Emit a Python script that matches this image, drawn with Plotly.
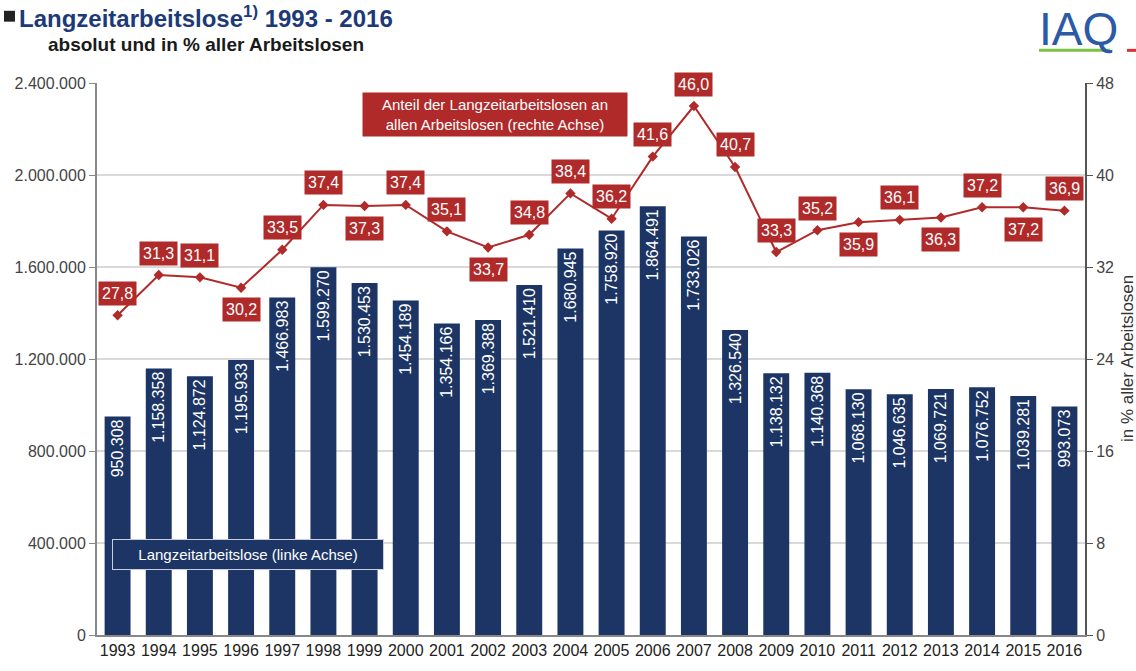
import plotly.graph_objects as go

years = list(range(1993, 2017))
long_term_unemployed = [950308, 1158358, 1124872, 1195933, 1466983, 1599270, 1530453, 1454189,
                        1354166, 1369388, 1521410, 1680945, 1758920, 1864491, 1733026, 1326540,
                        1138132, 1140368, 1068130, 1046635, 1069721, 1076752, 1039281, 993073]
share_pct = [27.8, 31.3, 31.1, 30.2, 33.5, 37.4, 37.3, 37.4, 35.1, 33.7, 34.8, 38.4,
             36.2, 41.6, 46.0, 40.7, 33.3, 35.2, 35.9, 36.1, 36.3, 37.2, 37.2, 36.9]
label_side = ['a', 'a', 'a', 'b', 'a', 'a', 'b', 'a', 'a', 'b', 'a', 'a',
              'a', 'a', 'a', 'a', 'a', 'a', 'b', 'a', 'b', 'a', 'b', 'a']

NAVY = "#1c3564"
RED = "#b02a2a"
FONT = "Liberation Sans, Arial, sans-serif"

fig = go.Figure()
fig.add_trace(go.Bar(
    x=years, y=long_term_unemployed, marker_color=NAVY, marker_line_width=0,
    texttemplate="%{y:,d}", textposition="inside", insidetextanchor="end",
    textangle=-90, textfont=dict(color="white", size=16, family=FONT),
    cliponaxis=False, hoverinfo="skip", showlegend=False,
))
fig.add_trace(go.Scatter(
    x=years, y=share_pct, yaxis="y2", mode="lines+markers",
    line=dict(color=RED, width=2), marker=dict(symbol="diamond", size=8, color=RED),
    hoverinfo="skip", showlegend=False,
))

annotations = []
for yr, v, side in zip(years, share_pct, label_side):
    annotations.append(dict(
        x=yr, y=v, xref="x", yref="y2", text=f"{v:.1f}".replace(".", ","),
        showarrow=False, bgcolor=RED, borderpad=3,
        font=dict(color="white", size=16, family=FONT),
        yshift=22 if side == 'a' else -22,
    ))

# Plot-area pixel helpers for paper placement
L, R, T, B = 97, 1085, 83, 641
def px(x):
    return (x - L) / (R - L)
def py(y):
    return (B - y) / (B - T)

annotations += [
    dict(xref="paper", yref="paper", x=px(17), y=py(16), xanchor="left", yanchor="middle",
         text="<b>Langzeitarbeitslose<sup style='font-size:60%'>1)</sup> 1993 - 2016</b>",
         showarrow=False, font=dict(size=24, color="#1d3a78", family=FONT)),
    dict(xref="paper", yref="paper", x=px(46), y=py(44), xanchor="left", yanchor="middle",
         text="<b>absolut und in % aller Arbeitslosen</b>",
         showarrow=False, font=dict(size=19, color="#1a1a1a", family=FONT)),
    dict(xref="paper", yref="paper", x=px(1078), y=py(28), xanchor="center", yanchor="middle",
         text="IAQ", showarrow=False, font=dict(size=46, color="#2b5aa6", family=FONT)),
    dict(xref="paper", yref="paper", x=px(495), y=py(115), xanchor="center", yanchor="middle",
         text="Anteil der Langzeitarbeitslosen an<br>allen Arbeitslosen (rechte Achse)",
         showarrow=False, bgcolor=RED, borderpad=3, width=258, align="center",
         font=dict(size=15, color="white", family=FONT)),
    dict(xref="paper", yref="paper", x=px(248), y=py(560), xanchor="center", yanchor="middle",
         text="Langzeitarbeitslose (linke Achse)", showarrow=False, bgcolor=NAVY,
         bordercolor="#c9cde0", borderwidth=1, borderpad=6, width=258,
         font=dict(size=15, color="white", family=FONT)),
    dict(xref="paper", yref="paper", x=px(1127), y=0.5, xanchor="center", yanchor="middle",
         text="in % aller Arbeitslosen", textangle=-90, showarrow=False,
         font=dict(size=17, color="#333", family=FONT)),
]

shapes = [
    dict(type="rect", xref="paper", yref="paper", x0=px(4), x1=px(15), y0=py(21), y1=py(10),
         fillcolor="#222", line=dict(width=0)),
    dict(type="line", xref="paper", yref="paper", x0=px(1039), x1=px(1110), y0=py(50), y1=py(50),
         line=dict(color="#7dc142", width=3)),
    dict(type="line", xref="paper", yref="paper", x0=px(1127), x1=px(1136), y0=py(50), y1=py(50),
         line=dict(color="#e03030", width=3)),
]

fig.update_layout(
    width=1136, height=671, autosize=False,
    margin=dict(l=L, r=1136 - R, t=T, b=671 - B),
    paper_bgcolor="white", plot_bgcolor="white",
    separators=",.", bargap=0.37,
    font=dict(family=FONT, size=16, color="#333"),
    xaxis=dict(range=[1992.5, 2016.5], tickmode="linear", dtick=1, showgrid=False,
               showline=True, linecolor="#888", linewidth=2, ticks="",
               tickfont=dict(size=16, color="#222"), zeroline=False, fixedrange=True),
    yaxis=dict(range=[0, 2400000], dtick=400000, tickformat=",d", showgrid=True,
               gridcolor="#d9d9d9", gridwidth=2, showline=True, linecolor="#888",
               linewidth=2, ticks="outside", ticklen=6, tickcolor="#888",
               tickfont=dict(size=16, color="#444"), zeroline=False),
    yaxis2=dict(range=[0, 48], dtick=8, overlaying="y", side="right", showgrid=False,
                showline=True, linecolor="#555", linewidth=2, ticks="outside", ticklen=6,
                tickcolor="#555", tickfont=dict(size=16, color="#444"), zeroline=False),
    annotations=annotations, shapes=shapes,
)

fig.write_html("out.html")
